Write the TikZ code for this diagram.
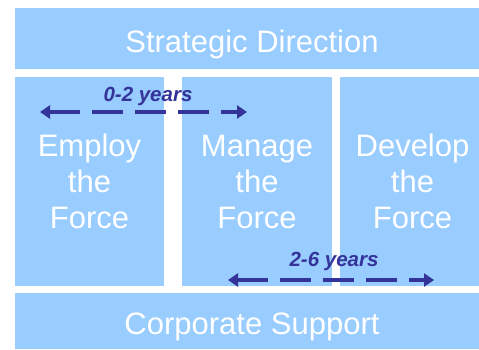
\documentclass[tikz,border=0pt]{standalone}
\usepackage{fontspec}
\setmainfont{Liberation Sans}
\definecolor{force_fill}{RGB}{153, 204, 255}
\definecolor{force_navy}{RGB}{51, 51, 153}
\usetikzlibrary{arrows.meta}

\begin{document}
\begin{tikzpicture}[x=1pt, y=-1pt,
      blk/.style={fill=force_fill, draw=none, inner sep=0pt, align=center,
                  text=white, font=\fontsize{31}{36}\selectfont},
      bar/.style={blk, minimum width=474pt, text height=27pt, text depth=0pt},
      col/.style={blk, minimum height=209pt},
      arr/.style={{Triangle[length=10pt,width=13pt]}-{Triangle[length=10pt,width=13pt]},
                  line width=4.5pt, force_navy, dash pattern=on 31pt off 12pt},
      yrs/.style={anchor=base, text=force_navy,
                  font=\fontsize{20.5}{24}\selectfont\bfseries\itshape}]
      \useasboundingbox (0,0) rectangle (479,349);
      % Top bar
      \node[bar, minimum height=61pt] (strat) at (252,38.5) {Strategic Direction};
      % Columns
      \node[col, minimum width=149pt] (employ) at (89.5,181.5)
        {Employ\\the\\Force};
      \node[col, minimum width=150pt] (manage) at (257,181.5)
        {Manage\\the\\Force};
      \node[col, minimum width=145pt] (develop) at (412.5,181.5)
        {Develop\\the\\Force};
      % Bottom bar
      \node[bar, minimum height=56pt] (corp) at (252,321) {Corporate Support};
      % Time spans
      \coordinate (shortl) at (40,112);
      \coordinate (shortr) at (247,112);
      \draw[arr] (shortl) -- (shortr);
      \node[yrs] (short) at (148,101) {0-2 years};
      \coordinate (longl) at (228,280);
      \coordinate (longr) at (434,280);
      \draw[arr] (longl) -- (longr);
      \node[yrs] (long) at (334,266.7) {2-6 years};
    \end{tikzpicture}
\end{document}
